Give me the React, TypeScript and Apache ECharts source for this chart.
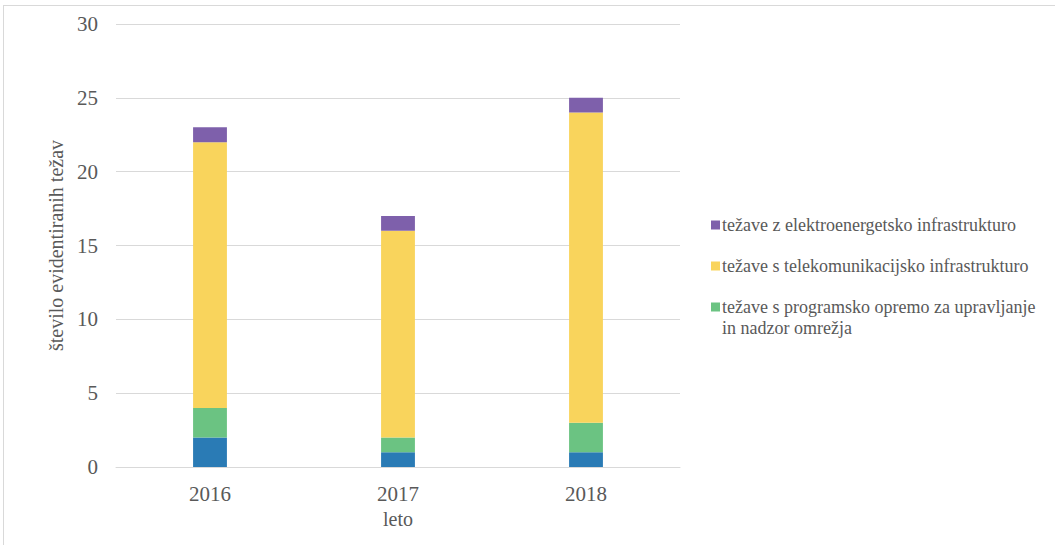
import React, { useEffect, useRef } from "react";
import * as echarts from "echarts";

const categories = ["2016", "2017", "2018"];
const seriesNames = [
  "težave z drugo infrastrukturo",
  "težave s programsko opremo za upravljanje\nin nadzor omrežja",
  "težave s telekomunikacijsko infrastrukturo",
  "težave z elektroenergetsko infrastrukturo",
];
const blueValues = [2, 1, 1];
const greenValues = [2, 1, 2];
const yellowValues = [18, 14, 21];
const purpleValues = [1, 1, 1];
const colors = ["#2a7bb5", "#6bc382", "#f9d45c", "#7e60ab"];
const legendOrder = [3, 2, 1];
const yAxisName = "število evidentiranih težav";
const xAxisName = "leto";

const FONT = "Liberation Serif";
const TEXT = "#595959";

export default function App() {
  const ref = useRef<HTMLDivElement>(null);
  useEffect(() => {
    if (!ref.current) return;
    const chart = echarts.init(ref.current, undefined, { renderer: "svg" });
    const values = [blueValues, greenValues, yellowValues, purpleValues];
    const legendY = [225, 266, 307];
    const graphics: any[] = [
      { type: "line", shape: { x1: 3, y1: 5.5, x2: 1055, y2: 5.5 }, style: { stroke: "#d9d9d9", lineWidth: 1 } },
      { type: "line", shape: { x1: 3.5, y1: 5, x2: 3.5, y2: 545 }, style: { stroke: "#d9d9d9", lineWidth: 1 } },
    ];
    legendOrder.forEach((si, i) => {
      graphics.push({
        type: "rect",
        shape: { x: 711, y: legendY[i] - 4.5, width: 9, height: 9 },
        style: { fill: colors[si] },
      });
      graphics.push({
        type: "text",
        x: 722,
        y: legendY[i] - 10.5,
        style: {
          text: seriesNames[si],
          fill: TEXT,
          fontFamily: FONT,
          fontSize: 18,
          lineHeight: 21,
          verticalAlign: "top",
        },
      });
    });
    chart.setOption({
      animation: false,
      textStyle: { fontFamily: FONT },
      grid: { left: 116, right: 375, top: 24, bottom: 78 },
      xAxis: {
        type: "category",
        data: categories,
        name: xAxisName,
        nameLocation: "middle",
        nameGap: 41,
        nameTextStyle: { fontFamily: FONT, fontSize: 20, color: TEXT },
        axisLine: { lineStyle: { color: "#d9d9d9" } },
        axisTick: { show: false },
        axisLabel: { fontFamily: FONT, fontSize: 21, color: TEXT, margin: 16 },
      },
      yAxis: {
        type: "value",
        min: 0,
        max: 30,
        interval: 5,
        name: yAxisName,
        nameLocation: "middle",
        nameGap: 46,
        nameTextStyle: { fontFamily: FONT, fontSize: 20, color: TEXT },
        axisLine: { show: false },
        axisTick: { show: false },
        axisLabel: { fontFamily: FONT, fontSize: 21, color: TEXT, margin: 18 },
        splitLine: { lineStyle: { color: "#d9d9d9" } },
      },
      graphic: graphics,
      series: values.map((v, i) => ({
        type: "bar",
        name: seriesNames[i],
        stack: "total",
        data: v,
        barWidth: "18%",
        itemStyle: { color: colors[i] },
      })),
    });
    return () => chart.dispose();
  }, []);
  return (
    <div
      ref={ref}
      style={{ position: "absolute", left: 0, top: 0, width: 1055, height: 545, background: "#fff" }}
    />
  );
}
